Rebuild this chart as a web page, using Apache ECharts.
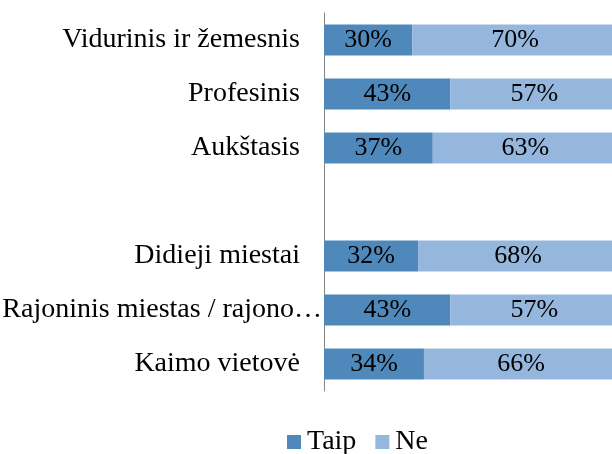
<!DOCTYPE html>
<html>
<head>
<meta charset="utf-8">
<script src="https://cdn.jsdelivr.net/npm/echarts@6/dist/echarts.min.js"></script>
<style>
  html, body { margin: 0; padding: 0; background: #fff; }
  #chart { width: 612px; height: 454px; }
</style>
</head>
<body>
<div id="chart"></div>
<script>
// kategorijos (tuscia eilute - tarpas tarp grupiu)
var categories = ['Vidurinis ir žemesnis', 'Profesinis', 'Aukštasis', '',
  'Didieji miestai', 'Rajoninis miestas / rajono…', 'Kaimo vietovė'];
var taip = [30, 43, 37, null, 32, 43, 34];
var ne = [70, 57, 63, null, 68, 57, 66];

var font = 'Liberation Serif, Times New Roman, serif';

function pct(p) { return p.value + '%'; }

// ilga etikete originale uzlenda ant asies
var catData = categories.map(function (c) {
  if (c.indexOf('…') > -1) {
    return { value: c, textStyle: { padding: [0, -22, 0, 0] } };
  }
  return c;
});

var myChart = echarts.init(document.getElementById('chart'));
myChart.setOption({
  animation: false,
  textStyle: { fontFamily: font },
  grid: { left: 324, right: -6, top: 13, bottom: 63, outerBoundsMode: 'none' },
  legend: {
    top: 428,
    left: 287,
    padding: 0,
    itemWidth: 14,
    itemHeight: 14,
    itemGap: 19,
    icon: 'rect',
    textStyle: { fontFamily: font, fontSize: 28, color: '#000', padding: [0, 0, 0, 1] },
    data: ['Taip', 'Ne']
  },
  xAxis: {
    type: 'value',
    min: 0,
    max: 100,
    show: false
  },
  yAxis: {
    type: 'category',
    inverse: true,
    data: catData,
    axisLine: { lineStyle: { color: '#868686', width: 1 } },
    axisTick: { show: false },
    axisLabel: { fontFamily: font, fontSize: 28, color: '#000', margin: 24 }
  },
  series: [
    {
      name: 'Taip',
      type: 'bar',
      stack: 'a',
      barWidth: '57%',
      data: taip,
      itemStyle: { color: '#4F88BB' },
      label: { show: true, formatter: pct, fontFamily: font, fontSize: 26, color: '#000' }
    },
    {
      name: 'Ne',
      type: 'bar',
      stack: 'a',
      barWidth: '57%',
      data: ne,
      itemStyle: { color: '#95B7DE' },
      label: { show: true, formatter: pct, fontFamily: font, fontSize: 26, color: '#000' }
    }
  ]
});
</script>
</body>
</html>
